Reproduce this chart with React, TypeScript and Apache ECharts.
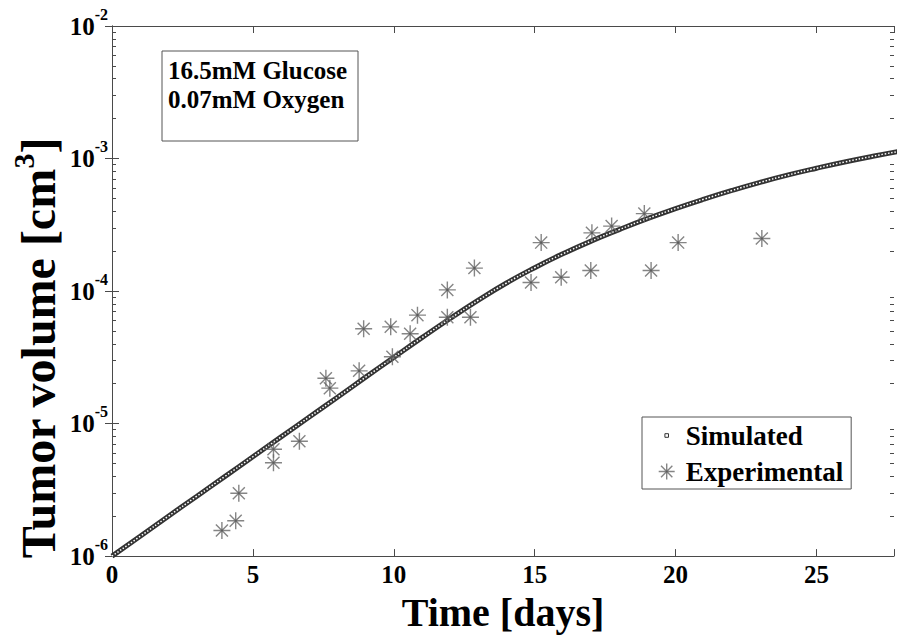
import React, { useEffect, useRef } from 'react';
import * as echarts from 'echarts';

const FONT = '"Liberation Serif", "Times New Roman", serif';

// Simulated tumour volume (cm^3) read at whole days
const simDays = [0, 1, 2, 3, 4, 5, 6, 7, 8, 9, 10, 11, 12, 13, 14, 15, 16, 17, 18, 19, 20, 21, 22, 23, 24, 25, 26, 27, 28];
const simVolume = [
  1.0e-6, 1.41e-6, 2.0e-6, 2.82e-6, 3.98e-6, 5.62e-6, 7.94e-6, 1.12e-5, 1.58e-5, 2.24e-5,
  3.16e-5, 4.45e-5, 6.21e-5, 8.53e-5, 1.15e-4, 1.5e-4, 1.91e-4, 2.38e-4, 2.91e-4, 3.52e-4,
  4.19e-4, 4.93e-4, 5.74e-4, 6.61e-4, 7.52e-4, 8.45e-4, 9.42e-4, 1.04e-3, 1.14e-3,
];

// Experimental measurements
const expDays = [
  3.9, 4.39, 4.5, 5.73, 5.73, 6.65, 7.59, 7.73, 8.77, 8.93, 9.89, 9.95, 10.58, 10.84,
  11.9, 11.9, 12.72, 12.86, 14.87, 15.23, 15.94, 16.99, 17.03, 17.73, 18.89, 19.13, 20.09, 23.06,
];
const expVolume = [
  1.56e-6, 1.85e-6, 2.98e-6, 5.06e-6, 6.4e-6, 7.35e-6, 2.2e-5, 1.85e-5, 2.5e-5, 5.19e-5,
  5.37e-5, 3.19e-5, 4.76e-5, 6.58e-5, 1.02e-4, 6.35e-5, 6.35e-5, 1.49e-4, 1.16e-4, 2.32e-4,
  1.27e-4, 1.43e-4, 2.75e-4, 3.09e-4, 3.84e-4, 1.43e-4, 2.32e-4, 2.49e-4,
];

const xTickStep = 5;
const annotationLines = ['16.5mM Glucose', '0.07mM Oxygen'];

const ASTERISK =
  'path://M8,0 L8,16 M0,8 L16,8 M2.34,2.34 L13.66,13.66 M13.66,2.34 L2.34,13.66 M7,7 L9,7 L9,9 L7,9 Z';
const SMALL_SQUARE = 'path://M0,0 M16,16 M6.2,6.2 L9.8,6.2 L9.8,9.8 L6.2,9.8 Z';

const AXIS_COLOR = '#4a4a4a';

const minorLogTicks: number[] = [];
for (let d = -6; d < -2; d++) {
  for (let k = 2; k <= 9; k++) minorLogTicks.push(d + Math.log10(k));
}

function buildOption() {
  const simData = simDays.map((t, i) => [t, simVolume[i]]);
  const expData = expDays.map((t, i) => [t, expVolume[i]]);
  const axisLine = { show: true, lineStyle: { color: AXIS_COLOR, width: 1 } };
  const majorTick = { show: true, inside: true, length: 7, lineStyle: { color: AXIS_COLOR, width: 1 } };
  const minorTickAxis = (position: 'left' | 'right') => ({
    type: 'value',
    position,
    min: -6,
    max: -2,
    axisLine: { show: false },
    axisLabel: { show: false },
    splitLine: { show: false },
    axisTick: {
      show: true,
      inside: true,
      length: 4,
      customValues: minorLogTicks,
      lineStyle: { color: AXIS_COLOR, width: 1 },
    },
  });

  return {
    animation: false,
    backgroundColor: '#fff',
    grid: { left: 112, top: 26, right: 1, bottom: 77, containLabel: false },
    xAxis: [
      {
        type: 'value',
        position: 'bottom',
        min: 0,
        max: 27.75,
        interval: xTickStep,
        axisLine,
        axisTick: majorTick,
        splitLine: { show: false },
        axisLabel: {
          margin: 6,
          fontSize: 25,
          fontWeight: 'bold',
          fontFamily: FONT,
          color: '#000',
          formatter: (v: number) => (v % xTickStep === 0 ? String(v) : ''),
        },
        name: 'Time [days]',
        nameLocation: 'middle',
        nameGap: 31,
        nameTextStyle: { fontSize: 40, fontWeight: 'bold', fontFamily: FONT, color: '#000' },
      },
      {
        type: 'value',
        position: 'top',
        min: 0,
        max: 27.75,
        interval: xTickStep,
        axisLine,
        axisTick: majorTick,
        axisLabel: { show: false },
        splitLine: { show: false },
      },
    ],
    yAxis: [
      {
        type: 'log',
        logBase: 10,
        position: 'left',
        min: 1e-6,
        max: 1e-2,
        axisLine,
        axisTick: majorTick,
        splitLine: { show: false },
        axisLabel: {
          margin: 4,
          formatter: (v: number) => `{b|10}{s|${Math.round(Math.log10(v))}}`,
          rich: {
            b: { fontSize: 25, fontWeight: 'bold', fontFamily: FONT, color: '#000' },
            s: { fontSize: 16, fontWeight: 'bold', fontFamily: FONT, color: '#000', padding: [0, 0, 24, 0] },
          },
        },
      },
      {
        type: 'log',
        logBase: 10,
        position: 'right',
        min: 1e-6,
        max: 1e-2,
        axisLine,
        axisTick: majorTick,
        splitLine: { show: false },
        axisLabel: { show: false },
      },
      minorTickAxis('left'),
      minorTickAxis('right'),
    ],
    legend: {
      left: 642,
      top: 417,
      orient: 'vertical',
      selectedMode: false,
      backgroundColor: '#fff',
      borderColor: '#555',
      borderWidth: 1,
      borderRadius: 0,
      padding: [5, 8, 4, 16],
      itemGap: 9,
      itemWidth: 16,
      itemHeight: 16,
      textStyle: { fontSize: 27, fontWeight: 'bold', fontFamily: FONT, color: '#000', padding: [0, 0, 0, 6] },
      data: [
        { name: 'Simulated', icon: SMALL_SQUARE, itemStyle: { color: '#fff', borderColor: '#333', borderWidth: 1 } },
        { name: 'Experimental', icon: ASTERISK, itemStyle: { color: '#000', borderColor: '#666', borderWidth: 1.4 } },
      ],
    },
    graphic: [
      {
        type: 'rect',
        shape: { x: 162, y: 51, width: 196, height: 90 },
        style: { fill: '#fff', stroke: '#555', lineWidth: 1 },
        z: 10,
      },
      ...annotationLines.map((line, i) => ({
        type: 'text',
        x: 168,
        y: 70 + i * 29,
        z: 11,
        style: {
          text: line,
          fontSize: 25,
          fontWeight: 'bold',
          fontFamily: FONT,
          fill: '#000',
          align: 'left',
          verticalAlign: 'middle',
        },
      })),
      {
        type: 'text',
        x: 38,
        y: 348,
        rotation: Math.PI / 2,
        z: 11,
        style: {
          text: 'Tumor volume [cm{sup|3}]',
          fontSize: 48,
          fontWeight: 'bold',
          fontFamily: FONT,
          fill: '#000',
          align: 'center',
          verticalAlign: 'middle',
          rich: {
            sup: { fontSize: 30, fontWeight: 'bold', fontFamily: FONT, fill: '#000', padding: [0, 0, 30, 0] },
          },
        },
      },
    ],
    series: [
      {
        name: 'Simulated',
        type: 'line',
        xAxisIndex: 0,
        yAxisIndex: 0,
        data: simData,
        smooth: true,
        showSymbol: false,
        symbol: 'rect',
        itemStyle: { color: '#fff', borderColor: '#333' },
        lineStyle: { color: '#333', width: 5 },
        emphasis: { disabled: true },
        z: 2,
      },
      {
        name: 'Simulated markers',
        type: 'line',
        xAxisIndex: 0,
        yAxisIndex: 0,
        data: simData,
        smooth: true,
        showSymbol: false,
        silent: true,
        lineStyle: { color: '#fff', width: 1.5, type: [1.5, 1.8] },
        emphasis: { disabled: true },
        z: 3,
      },
      {
        name: 'Experimental',
        type: 'scatter',
        xAxisIndex: 0,
        yAxisIndex: 0,
        data: expData,
        symbol: ASTERISK,
        symbolSize: 17,
        itemStyle: { color: '#000', borderColor: '#666', borderWidth: 1.4 },
        emphasis: { disabled: true },
        z: 4,
      },
    ],
  };
}

export default function App() {
  const ref = useRef<HTMLDivElement>(null);
  useEffect(() => {
    if (!ref.current) return;
    const chart = echarts.init(ref.current, null, { renderer: 'svg' });
    chart.setOption(buildOption() as any);
    return () => chart.dispose();
  }, []);
  return (
    <div
      ref={ref}
      style={{ position: 'fixed', left: 0, top: 0, width: 897, height: 637, background: '#fff' }}
    />
  );
}
